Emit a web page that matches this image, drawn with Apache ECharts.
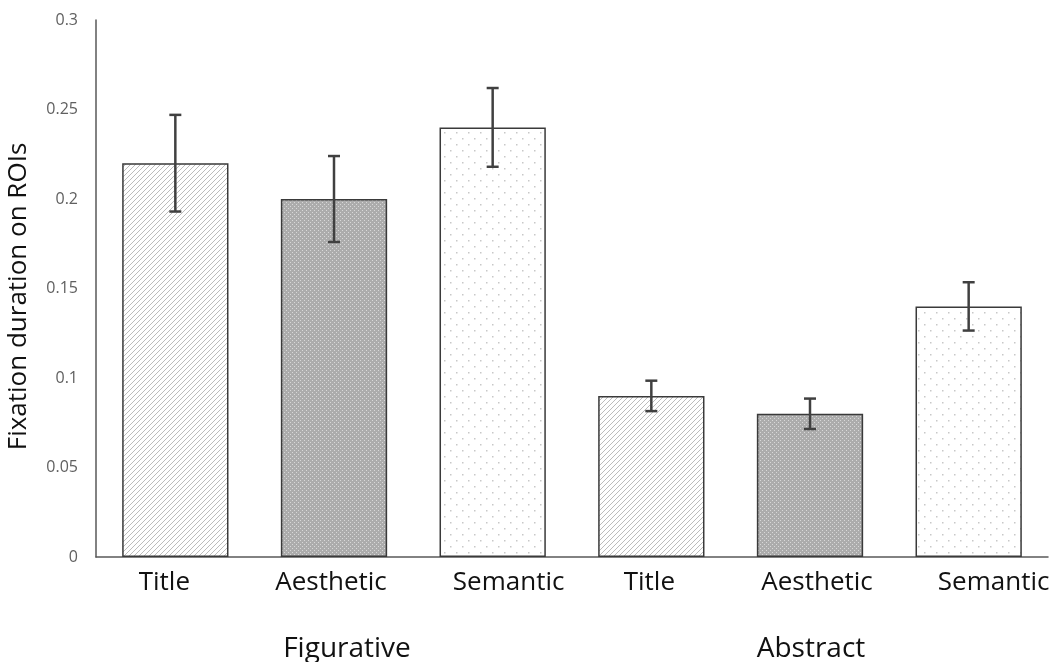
<!DOCTYPE html>
<html>
<head>
<meta charset="utf-8">
<script src="https://cdn.jsdelivr.net/npm/echarts@6/dist/echarts.min.js"></script>
<style>
  html, body { margin: 0; padding: 0; background: #fff; }
  #chart { width: 1056px; height: 662px; }
</style>
</head>
<body>
<div id="chart"></div>
<script>
// Fixation duration per region of interest, by painting style and ROI type
const categories = ['Title', 'Aesthetic', 'Semantic', 'Title', 'Aesthetic', 'Semantic'];
const groups = ['Figurative', 'Abstract'];
const means = [0.22, 0.20, 0.24, 0.09, 0.08, 0.14];
const errors = [0.027, 0.024, 0.022, 0.0085, 0.0085, 0.0135];
const yTicks = [0, 0.05, 0.1, 0.15, 0.2, 0.25, 0.3];

// Horizontal nudge (px) of each category caption relative to its bar
const labelShift = [-11, -3, 16, -2, 7, 25];
const groupShift = [13, 1];

// Fill patterns for the three ROI types
function makeCanvas(w, h, draw) {
  const c = document.createElement('canvas');
  c.width = w; c.height = h;
  draw(c.getContext('2d'));
  return c;
}
const hatch = makeCanvas(5, 5, ctx => {
  ctx.fillStyle = '#ffffff';
  ctx.fillRect(0, 0, 5, 5);
  ctx.strokeStyle = '#bcbcbc';
  ctx.lineWidth = 1;
  ctx.beginPath();
  ctx.moveTo(-1, 6); ctx.lineTo(6, -1);
  ctx.moveTo(-1, 1); ctx.lineTo(1, -1);
  ctx.moveTo(4, 6); ctx.lineTo(6, 4);
  ctx.stroke();
});
const denseDots = makeCanvas(4, 4, ctx => {
  ctx.fillStyle = '#acacac';
  ctx.fillRect(0, 0, 4, 4);
  ctx.fillStyle = '#d8d8d8';
  ctx.fillRect(0, 0, 1, 1);
  ctx.fillRect(2, 2, 1, 1);
});
const sparseDots = makeCanvas(12, 12, ctx => {
  ctx.fillStyle = '#ffffff';
  ctx.fillRect(0, 0, 12, 12);
  ctx.fillStyle = '#c8c8c8';
  ctx.fillRect(0, 0, 1.5, 1.5);
  ctx.fillRect(6, 6, 1.5, 1.5);
});
const fills = [hatch, denseDots, sparseDots, hatch, denseDots, sparseDots];

const axisColor = '#595959';
const textFont = '"Open Sans", Lato, sans-serif';

// Rich-text styles that pad each caption so its centre moves by the given shift
function shiftStyles(prefix, shifts, base) {
  const rich = {};
  shifts.forEach((d, i) => {
    rich[prefix + i] = Object.assign({}, base, {
      padding: d >= 0 ? [0, 0, 0, 2 * d] : [0, -2 * d, 0, 0]
    });
  });
  return rich;
}
const catBase = { color: '#111', fontSize: 26, fontFamily: textFont };
const grpBase = { color: '#111', fontSize: 28, fontFamily: textFont };

const chart = echarts.init(document.getElementById('chart'), null, { renderer: 'canvas' });
chart.setOption({
  animation: false,
  backgroundColor: '#ffffff',
  grid: { left: 96, right: 8, top: 20, bottom: 105, outerBoundsMode: 'none', containLabel: false },
  xAxis: [
    {
      type: 'category',
      data: categories,
      axisLine: { show: true, lineStyle: { color: axisColor, width: 1.5 } },
      axisTick: { show: false },
      axisLabel: {
        interval: 0,
        margin: 13,
        formatter: (v, i) => '{c' + i + '|' + v + '}',
        rich: shiftStyles('c', labelShift, catBase)
      }
    },
    {
      type: 'category',
      position: 'bottom',
      data: groups,
      offset: 70,
      axisLine: { show: false },
      axisTick: { show: false },
      axisLabel: {
        interval: 0,
        formatter: (v, i) => '{g' + i + '|' + v + '}',
        rich: shiftStyles('g', groupShift, grpBase)
      }
    }
  ],
  yAxis: {
    type: 'value',
    min: 0,
    max: 0.3,
    interval: 0.05,
    name: 'Fixation duration on ROIs',
    nameLocation: 'middle',
    nameGap: 64,
    nameTextStyle: { color: '#111', fontSize: 26, fontFamily: textFont, padding: [0, 16, 0, 0] },
    axisLine: { show: true, lineStyle: { color: axisColor, width: 1.5 } },
    axisTick: { show: false },
    splitLine: { show: false },
    axisLabel: {
      color: '#606060', fontSize: 16, fontFamily: textFont, margin: 18,
      formatter: v => {
        const t = yTicks.find(x => Math.abs(x - v) < 1e-9);
        return t === undefined ? '' : String(t);
      }
    }
  },
  series: [
    {
      type: 'bar',
      xAxisIndex: 0,
      barWidth: '67%',
      data: means.map((v, i) => ({
        value: v,
        itemStyle: {
          color: { image: fills[i], repeat: 'repeat' },
          borderColor: '#3a3a3a',
          borderWidth: 1.5
        }
      })),
      z: 2
    },
    {
      type: 'custom',
      xAxisIndex: 0,
      z: 5,
      data: means.map((v, i) => [i, v - errors[i], v + errors[i]]),
      renderItem: (params, api) => {
        const lo = api.coord([api.value(0), api.value(1)]);
        const hi = api.coord([api.value(0), api.value(2)]);
        const cap = 6;
        const style = { stroke: '#404040', lineWidth: 2.5, fill: null };
        return {
          type: 'group',
          children: [
            { type: 'line', shape: { x1: lo[0], y1: lo[1], x2: hi[0], y2: hi[1] }, style },
            { type: 'line', shape: { x1: hi[0] - cap, y1: hi[1], x2: hi[0] + cap, y2: hi[1] }, style },
            { type: 'line', shape: { x1: lo[0] - cap, y1: lo[1], x2: lo[0] + cap, y2: lo[1] }, style }
          ]
        };
      }
    }
  ]
});
</script>
</body>
</html>
